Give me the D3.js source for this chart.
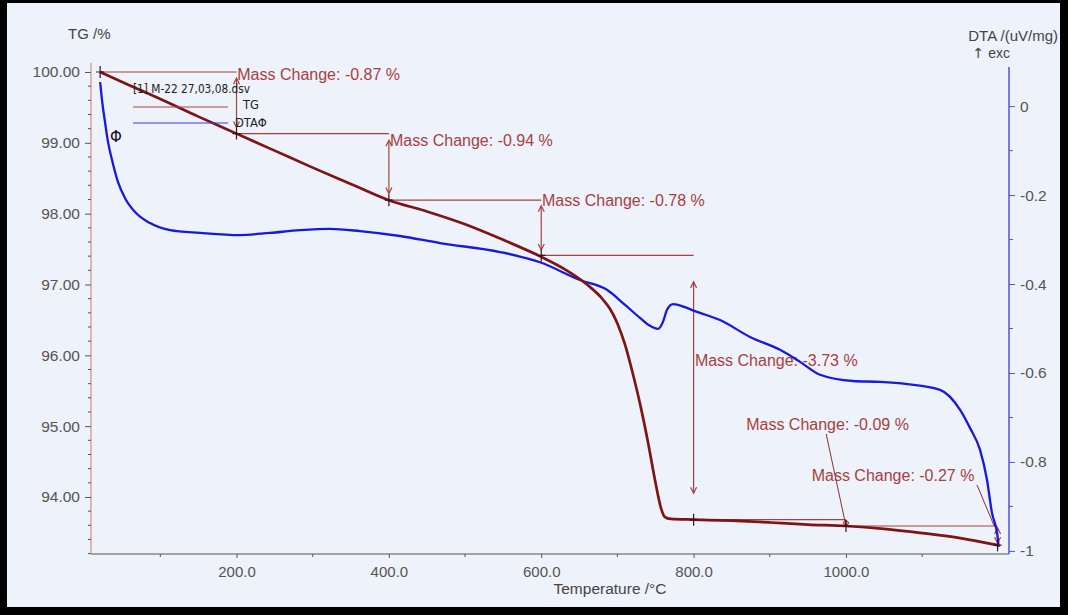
<!DOCTYPE html>
<html><head><meta charset="utf-8">
<script src="https://cdn.jsdelivr.net/npm/d3@7"></script>
<style>body{margin:0;background:#000}svg{display:block}</style>
</head><body><svg id="c" width="1068" height="615"></svg>
<script>
// ---------- data ----------
const tgTemp = [21, 60, 100, 150, 200, 250, 300, 350, 400, 450, 500, 550, 600, 630, 660, 680, 690, 700, 710, 720, 730, 740, 750, 757, 762, 770, 800, 850, 900, 950, 1000, 1050, 1100, 1150, 1199];
const tgMass = [100.00, 99.81, 99.62, 99.37, 99.13, 98.89, 98.65, 98.42, 98.19, 98.03, 97.85, 97.63, 97.39, 97.22, 97.00, 96.80, 96.66, 96.45, 96.15, 95.75, 95.30, 94.78, 94.20, 93.85, 93.72, 93.69, 93.68, 93.665, 93.64, 93.61, 93.59, 93.55, 93.49, 93.42, 93.32];

const dtaTemp = [21, 23.5, 27.4, 31.4, 36.6, 44.5, 53.7, 66.8, 86.5, 112.8, 152.1, 204.6, 244, 283.4, 322.7, 362.1, 414.6, 467.1, 545.9, 598.4, 650.9, 686.3, 710, 729.6, 742.8, 753.3, 759.8, 765.1, 773, 788.7, 801.9, 834.7, 874.1, 913.5, 939.7, 966, 1009.3, 1044.7, 1080.2, 1123.5, 1149.8, 1162.9, 1176, 1185.1, 1191.7, 1198.3, 1200.5];
const dtaValue = [0.054, 0.013, -0.036, -0.081, -0.121, -0.171, -0.207, -0.238, -0.263, -0.279, -0.285, -0.290, -0.285, -0.279, -0.276, -0.281, -0.292, -0.308, -0.328, -0.351, -0.391, -0.413, -0.447, -0.476, -0.494, -0.501, -0.485, -0.458, -0.445, -0.452, -0.461, -0.481, -0.519, -0.548, -0.575, -0.604, -0.618, -0.620, -0.625, -0.638, -0.683, -0.724, -0.773, -0.840, -0.915, -0.960, -0.991];

const stepTemps = [21, 200, 400, 600, 800, 1000, 1199];
const stepMass = [100.00, 99.13, 98.19, 97.41, 93.68, 93.59, 93.32];
const massChanges = [-0.87, -0.94, -0.78, -3.73, -0.09, -0.27];
// label anchors (data units)
const labelTemp = [201, 401.5, 601, 801.7, 869, 955];
const labelMass = [99.965, 99.04, 98.19, 95.93, 95.02, 94.30];
// leader lines for the small steps (label -> step point)
const leaderFromTemp = [974, 1172];
const leaderFromMass = [94.89, 94.17];
const leaderToTemp = [1000, 1195];
const leaderToMass = [93.59, 93.58];

const xMajor = [200, 400, 600, 800, 1000];
const xMinor = [100, 300, 500, 700, 900, 1100];
const tgMajor = [94, 95, 96, 97, 98, 99, 100];
const dtaMajor = [0, -0.2, -0.4, -0.6, -0.8, -1];
const dtaMinor = [-0.1, -0.3, -0.5, -0.7, -0.9];

const legendFile = "[1] M-22 27,03,08.dsv";
const seriesNames = ["TG", "DTA"];

// ---------- layout ----------
const svg = d3.select("#c");
const font = "'Liberation Sans', Arial, sans-serif";
svg.append("rect").attr("x", 0).attr("y", 0).attr("width", 1068).attr("height", 615).attr("fill", "#000");
svg.append("rect").attr("x", 7).attr("y", 3).attr("width", 1053).attr("height", 604).attr("fill", "#EEF2FA");

const L = 91, R = 1009, T = 63, B = 554;
const x = d3.scaleLinear().domain([9, 1214]).range([L, R]);
const yL = d3.scaleLinear().domain([93.195, 100.127]).range([B, T]);
const yR = d3.scaleLinear().domain([-1.007, 0.088]).range([B, 67]);
const hy = s => s.replace("\u2212", "-");

// ---------- axes ----------
const gx = svg.append("g").attr("transform", `translate(0,${B})`)
  .call(d3.axisBottom(x).tickValues(xMajor).tickSize(4).tickFormat(d => hy(d3.format(".1f")(d))));
gx.select(".domain").attr("stroke", "#555").attr("d", `M${L},0H${R}`);
gx.selectAll(".tick line").attr("stroke", "#555");
gx.selectAll(".tick text").attr("fill", "#555").attr("font-family", font).attr("font-size", 15).attr("dy", "1.05em");
svg.append("g").selectAll("line").data(xMinor).join("line")
  .attr("x1", d => x(d)).attr("x2", d => x(d)).attr("y1", B).attr("y2", B + 3).attr("stroke", "#555");

const gl = svg.append("g").attr("transform", `translate(${L},0)`)
  .call(d3.axisLeft(yL).tickValues(tgMajor).tickSize(6).tickFormat(d => hy(d3.format(".2f")(d))));
gl.select(".domain").attr("stroke", "#D7A0A0").attr("stroke-width", 1.5).attr("d", `M0,${T}V${B}`);
gl.selectAll(".tick line").attr("stroke", "#555");
gl.selectAll(".tick text").attr("fill", "#555").attr("font-family", font).attr("font-size", 15.5).attr("dx", "-2");
const tgMinor = d3.range(93.2, 100.1, 0.2).filter(v => Math.abs(v - Math.round(v)) > 0.05);
svg.append("g").selectAll("line").data(tgMinor).join("line")
  .attr("x1", L - 3).attr("x2", L).attr("y1", d => yL(d)).attr("y2", d => yL(d)).attr("stroke", "#555");

const gr = svg.append("g").attr("transform", `translate(${R},0)`)
  .call(d3.axisRight(yR).tickValues(dtaMajor).tickSize(6).tickFormat(d => d === 0 ? "0" : (d === -1 ? "-1" : hy(d3.format(".1f")(d)))));
gr.select(".domain").attr("stroke", "#5050E0").attr("stroke-width", 1.5).attr("d", `M0,67V${B}`);
gr.selectAll(".tick line").attr("stroke", "#5050E0");
gr.selectAll(".tick text").attr("fill", "#555").attr("font-family", font).attr("font-size", 15.5).attr("dx", "2");
svg.append("g").selectAll("line").data(dtaMinor).join("line")
  .attr("x1", R).attr("x2", R + 4).attr("y1", d => yR(d)).attr("y2", d => yR(d)).attr("stroke", "#5050E0");

// axis titles
svg.append("text").attr("x", 68).attr("y", 39).text("TG /%").attr("font-family", font).attr("font-size", 15).attr("fill", "#444");
svg.append("text").attr("x", 1058).attr("y", 41).attr("text-anchor", "end").text("DTA /(uV/mg)").attr("font-family", font).attr("font-size", 15).attr("fill", "#444");
const exc = svg.append("text").attr("x", 1010).attr("y", 58).attr("text-anchor", "end").attr("font-size", 14).attr("fill", "#444");
exc.append("tspan").attr("font-family", "'DejaVu Sans', sans-serif").text("\u2191");
exc.append("tspan").attr("font-family", font).text(" exc");
svg.append("text").attr("x", 610).attr("y", 594).attr("text-anchor", "middle").text("Temperature /°C").attr("font-family", font).attr("font-size", 15.5).attr("fill", "#444");

// ---------- annotations ----------
const ann = "#A8403E";
const ga = svg.append("g");
for (let i = 0; i < massChanges.length; i++) {
  const t0 = stepTemps[i], t1 = stepTemps[i + 1];
  const m0 = stepMass[i], m1 = stepMass[i + 1];
  ga.append("line").attr("x1", x(t0)).attr("x2", x(t1)).attr("y1", yL(m0)).attr("y2", yL(m0))
    .attr("stroke", ann).attr("stroke-width", 1.2);
  const ya = yL(m0), yb = yL(m1), ins = (yb - ya) * 0.1;
  const xa = x(t1), y1 = ya + ins, y2 = yb - ins;
  ga.append("line").attr("x1", xa).attr("x2", xa).attr("y1", y1).attr("y2", y2).attr("stroke", ann).attr("stroke-width", 1.2);
  const h = Math.min(6, (y2 - y1) / 2);
  ga.append("path").attr("d", `M${xa - 3},${y1 + h}L${xa},${y1}L${xa + 3},${y1 + h}M${xa - 3},${y2 - h}L${xa},${y2}L${xa + 3},${y2 - h}`)
    .attr("fill", "none").attr("stroke", ann).attr("stroke-width", 1.2);
  ga.append("text").attr("x", x(labelTemp[i])).attr("y", yL(labelMass[i])).attr("dy", "0.36em")
    .text(`Mass Change: ${massChanges[i].toFixed(2)} %`)
    .attr("font-family", font).attr("font-size", 16).attr("fill", ann);
}
for (let k = 0; k < leaderFromTemp.length; k++) {
  ga.append("line").attr("x1", x(leaderFromTemp[k])).attr("y1", yL(leaderFromMass[k]))
    .attr("x2", x(leaderToTemp[k])).attr("y2", yL(leaderToMass[k])).attr("stroke", "#8a3030").attr("stroke-width", 1);
}

// ---------- curves ----------
const dtaLine = d3.line().x((d, i) => x(dtaTemp[i])).y((d, i) => yR(dtaValue[i])).curve(d3.curveMonotoneX);
svg.append("path").attr("d", dtaLine(dtaTemp)).attr("fill", "none").attr("stroke", "#1818E0").attr("stroke-width", 2.3);
const tgLine = d3.line().x((d, i) => x(tgTemp[i])).y((d, i) => yL(tgMass[i])).curve(d3.curveMonotoneX);
svg.append("path").attr("d", tgLine(tgTemp)).attr("fill", "none").attr("stroke", "#7E1414").attr("stroke-width", 2.7);

// step markers
svg.append("g").selectAll("path").data(stepTemps).join("path")
  .attr("d", (d, i) => `M${x(d)},${yL(stepMass[i]) - 6}V${yL(stepMass[i]) + 6}M${x(d) - 4},${yL(stepMass[i])}H${x(d) + 4}`)
  .attr("stroke", "#3a1010").attr("stroke-width", 1.2);

// ---------- legend ----------
const lg = svg.append("g").attr("font-family", "'DejaVu Sans', Verdana, sans-serif").attr("fill", "#222");
lg.append("text").attr("x", 133).attr("y", 93).text(legendFile).attr("font-size", 12.5).attr("textLength", 117).attr("lengthAdjust", "spacingAndGlyphs");
lg.append("line").attr("x1", 133).attr("x2", 228).attr("y1", 107).attr("y2", 107).attr("stroke", "#B04848").attr("stroke-width", 1.2);
lg.append("line").attr("x1", 133).attr("x2", 228).attr("y1", 123).attr("y2", 123).attr("stroke", "#3A3AE8").attr("stroke-width", 1.2);
lg.append("text").attr("x", 243).attr("y", 109).text(seriesNames[0]).attr("font-size", 11.5);
lg.append("text").attr("x", 235).attr("y", 127).text(seriesNames[1] + "\u03A6").attr("font-size", 11.5);
svg.append("text").attr("x", 110).attr("y", 142).text("\u03A6").attr("font-family", "'DejaVu Sans', sans-serif").attr("font-size", 15).attr("fill", "#111");
</script></body></html>
